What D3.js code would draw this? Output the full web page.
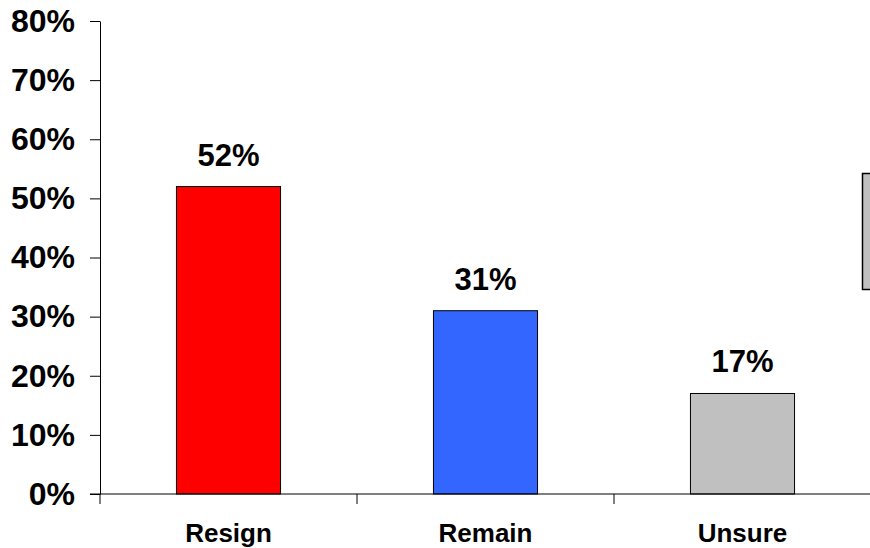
<!DOCTYPE html>
<html>
<head>
<meta charset="utf-8">
<script src="https://cdn.jsdelivr.net/npm/d3@7"></script>
<style>
  body { margin: 0; background: #fff; }
  svg { display: block; font-family: "Liberation Sans", Arial, sans-serif; font-weight: bold; }
</style>
</head>
<body>
<svg id="theSvg"></svg>
<script>
const categories = ["Resign", "Remain", "Unsure"];
const values = [52, 31, 17];
const colours = ["#ff0000", "#3366ff", "#c0c0c0"];
const yTicks = [0, 10, 20, 30, 40, 50, 60, 70, 80];

const width = 870, height = 548;
const margin = {top: 21, right: -1, bottom: 54, left: 100};

const svg = d3.select("#theSvg")
  .attr("width", width)
  .attr("height", height);

const x = d3.scaleBand()
  .domain(categories)
  .range([margin.left, width - margin.right])
  .padding(0);

const y = d3.scaleLinear()
  .domain([0, 80])
  .range([height - margin.bottom, margin.top]);

const barW = x.bandwidth() * 0.405;

// y axis
const yAxis = svg.append("g")
  .attr("transform", "translate(" + margin.left + ",0)")
  .call(d3.axisLeft(y).tickValues(yTicks).tickFormat(d => d + "%").tickSize(10).tickSizeOuter(0).tickPadding(15));
yAxis.select(".domain").attr("stroke", "#000");
yAxis.selectAll("line").attr("stroke", "#000");
yAxis.selectAll("text")
  .attr("fill", "#000")
  .style("font-size", "32px")
  .style("font-weight", "bold")
  .attr("font-family", null);

// bars
svg.append("g").selectAll("rect")
  .data(values)
  .join("rect")
  .attr("x", (d, i) => x(categories[i]) + x.bandwidth() / 2 - barW / 2)
  .attr("y", d => y(d))
  .attr("width", barW)
  .attr("height", d => y(0) - y(d))
  .attr("fill", (d, i) => colours[i])
  .attr("stroke", "#000")
  .attr("stroke-width", 1);

// value labels
svg.append("g").selectAll("text")
  .data(values)
  .join("text")
  .attr("x", (d, i) => x(categories[i]) + x.bandwidth() / 2)
  .attr("y", d => y(d) - 21)
  .attr("text-anchor", "middle")
  .style("font-size", "31px")
  .text(d => d + "%");

// x axis
const xAxis = svg.append("g")
  .attr("transform", "translate(0," + y(0) + ")");
xAxis.append("line")
  .attr("x1", margin.left - 10)
  .attr("x2", width)
  .attr("stroke", "#000");
xAxis.selectAll(".tick")
  .data(d3.range(categories.length))
  .join("line")
  .attr("class", "tick")
  .attr("x1", i => x(categories[i]) + x.bandwidth())
  .attr("x2", i => x(categories[i]) + x.bandwidth())
  .attr("y2", 10)
  .attr("stroke", "#000");
xAxis.append("line")
  .attr("x1", margin.left).attr("x2", margin.left)
  .attr("y2", 10)
  .attr("stroke", "#000");
xAxis.selectAll(".cat")
  .data(categories)
  .join("text")
  .attr("class", "cat")
  .attr("x", d => x(d) + x.bandwidth() / 2)
  .attr("y", 48)
  .attr("text-anchor", "middle")
  .style("font-size", "26px")
  .text(d => d);

// legend box, clipped by the right edge
svg.append("rect")
  .attr("x", 862.5)
  .attr("y", 173.5)
  .attr("width", 40)
  .attr("height", 116)
  .attr("fill", "#c0c0c0")
  .attr("stroke", "#000")
  .attr("stroke-width", 1.5);
</script>
</body>
</html>
